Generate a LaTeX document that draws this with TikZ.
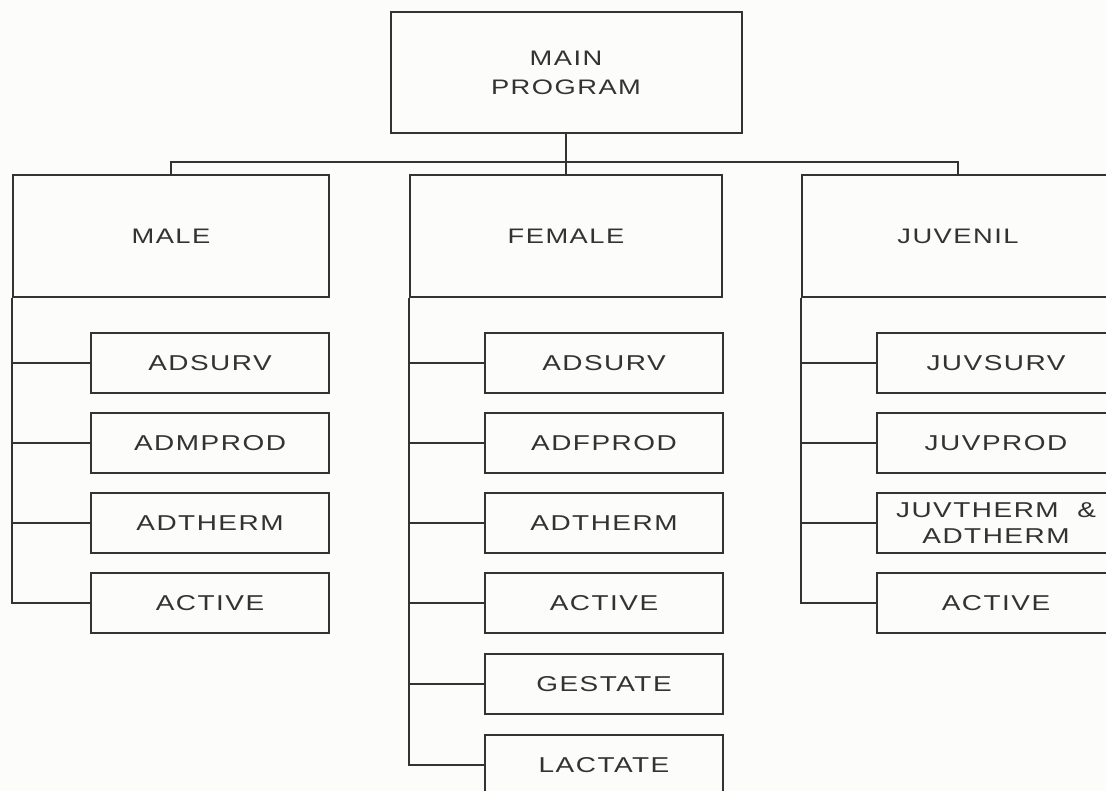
\documentclass[tikz,border=0pt]{standalone}
\usepackage{fontspec}
\setmainfont{Liberation Sans}[FakeStretch=1.3,LetterSpace=7]
\definecolor{ink}{HTML}{333333}
\definecolor{paper}{HTML}{FCFCFA}
\begin{document}
\begin{tikzpicture}[x=1pt,y=-1pt,
  topbox/.style={draw=ink,line width=2pt,inner sep=0pt,text=ink,align=center,
    font=\fontsize{21}{29}\selectfont},
  subbox/.style={draw=ink,line width=1.6pt,inner sep=0pt,text=ink,align=center,
    minimum width=238pt,minimum height=60pt,font=\fontsize{21.5}{26}\selectfont},
  wire/.style={draw=ink,line width=1.6pt}]
\useasboundingbox (0,0) rectangle (1106,791);
\clip (0,0) rectangle (1106,791);
\fill[paper] (0,0) rectangle (1106,791);

% top level
\node[topbox,minimum width=351pt,minimum height=121pt] (main) at (566,72.5) {MAIN\\PROGRAM};
\node[topbox,minimum width=316pt,minimum height=122pt] (male) at (171,236) {MALE};
\node[topbox,minimum width=312pt,minimum height=122pt] (female) at (566,236) {FEMALE};
\node[topbox,minimum width=312pt,minimum height=122pt] (juv) at (958,236) {JUVENIL};

\coordinate (bus) at (566,162);
\draw[wire] (main.south) -- (bus);
\draw[wire] (bus) -| (male.north);
\draw[wire] (bus) -| (juv.north);
\draw[wire] (bus) -- (female.north);

% male column
\node[subbox] (m1) at (210,363) {ADSURV};
\node[subbox] (m2) at (210,443) {ADMPROD};
\node[subbox] (m3) at (210,523) {ADTHERM};
\node[subbox] (m4) at (210,603) {ACTIVE};
\foreach \n in {m1,m2,m3,m4} \draw[wire] (male.south west) |- (\n.west);

% female column
\node[subbox] (f1) at (604,363) {ADSURV};
\node[subbox] (f2) at (604,443) {ADFPROD};
\node[subbox] (f3) at (604,523) {ADTHERM};
\node[subbox] (f4) at (604,603) {ACTIVE};
\node[subbox] (f5) at (604,684) {GESTATE};
\node[subbox] (f6) at (604,765) {LACTATE};
\foreach \n in {f1,f2,f3,f4,f5,f6} \draw[wire] (female.south west) |- (\n.west);

% juvenile column
\node[subbox] (j1) at (996,363) {JUVSURV};
\node[subbox] (j2) at (996,443) {JUVPROD};
\node[subbox] (j3) at (996,523) {JUVTHERM~~\&\\ADTHERM};
\node[subbox] (j4) at (996,603) {ACTIVE};
\foreach \n in {j1,j2,j3,j4} \draw[wire] (juv.south west) |- (\n.west);
\end{tikzpicture}
\end{document}
